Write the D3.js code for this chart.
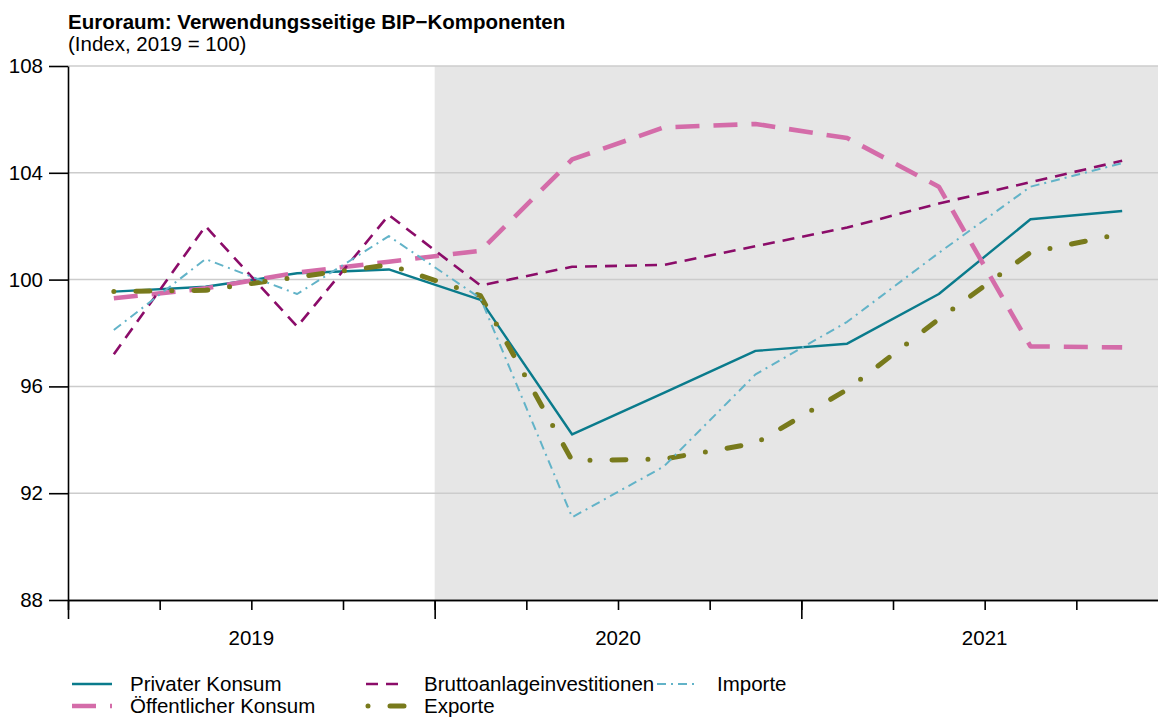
<!DOCTYPE html>
<html>
<head>
<meta charset="utf-8">
<script src="https://cdn.jsdelivr.net/npm/d3@7"></script>
<style>
  body { margin: 0; background: #fff; }
  text { font-family: "Liberation Sans", Arial, Helvetica, sans-serif; fill: #000; }
</style>
</head>
<body>
<div class="chart"></div>
<script>
// Euroraum: Verwendungsseitige BIP-Komponenten, Index 2019 = 100
var quarters = ["2019Q1", "2019Q2", "2019Q3", "2019Q4",
                "2020Q1", "2020Q2", "2020Q3", "2020Q4",
                "2021Q1", "2021Q2", "2021Q3", "2021Q4"];
var years = ["2019", "2020", "2021"];
var yTicks = [88, 92, 96, 100, 104, 108];

var privaterKonsum      = [99.55, 99.73, 100.24, 100.38, 99.24, 94.2, 95.76, 97.33, 97.6, 99.46, 102.26, 102.57];
var oeffentlicherKonsum = [99.3, 99.67, 100.26, 100.67, 101.08, 104.5, 105.7, 105.83, 105.3, 103.48, 97.5, 97.46];
var bruttoanlage        = [97.2, 102.0, 98.24, 102.42, 99.78, 100.48, 100.55, 101.25, 101.95, 102.85, 103.65, 104.45];
var exporte             = [99.55, 99.6, 100.1, 100.55, 99.4, 93.22, 93.28, 93.87, 95.88, 98.52, 101.02, 101.72];
var importe             = [98.11, 100.77, 99.46, 101.63, 99.3, 91.1, 93.0, 96.45, 98.42, 101.0, 103.48, 104.36];

// chart size
var svgWidth = 1158;
var svgHeight = 718;
var margin = { top: 66, left: 68, bottom: 118 };
var plotBottom = svgHeight - margin.bottom;   // 600
var plotRight = 1168;                         // x axis runs past the window edge
var fontSize = 20.5;

var svg = d3.select(".chart")
  .append("svg")
  .attr("width", svgWidth)
  .attr("height", svgHeight);

// quarters sit in the middle of their slot
var x = d3.scaleLinear().domain([0, quarters.length]).range([margin.left, plotRight]);
var y = d3.scaleLinear().domain([88, 108]).range([plotBottom, margin.top]);

// series table (styles live here, values come from the arrays above)
var series = [
  { name: "Privater Konsum",          values: privaterKonsum,      color: "#0a7b8c", width: 2.4, dash: null,          cap: "butt",  col: 0, row: 0 },
  { name: "Öffentlicher Konsum",      values: oeffentlicherKonsum, color: "#d46ca9", width: 4.6, dash: "24,14",       cap: "butt",  col: 0, row: 1 },
  { name: "Bruttoanlageinvestitionen", values: bruttoanlage,       color: "#8b0c69", width: 2.6, dash: "12,8",        cap: "butt",  col: 1, row: 0 },
  { name: "Exporte",                  values: exporte,             color: "#787a1c", width: 5,   dash: "0,22,14,22",  cap: "round", col: 1, row: 1 },
  { name: "Importe",                  values: importe,             color: "#62b3c8", width: 2,   dash: "9,5,2,5",     cap: "butt",  col: 2, row: 0 }
];

// shaded area from 2020 on
svg.append("rect")
  .attr("x", x(4))
  .attr("y", margin.top)
  .attr("width", svgWidth - x(4))
  .attr("height", plotBottom - margin.top)
  .attr("fill", "#e6e6e6");

// horizontal grid
svg.selectAll(".grid")
  .data(yTicks.filter(function(d) { return d > 88; }))
  .enter().append("line")
  .attr("class", "grid")
  .attr("x1", margin.left)
  .attr("x2", svgWidth)
  .attr("y1", function(d) { return y(d); })
  .attr("y2", function(d) { return y(d); })
  .attr("stroke", "#cccccc")
  .attr("stroke-width", 1.5);

// lines
var line = d3.line()
  .x(function(d, i) { return x(i + 0.5); })
  .y(function(d) { return y(d); });

svg.selectAll(".series")
  .data(series)
  .enter().append("path")
  .attr("class", "series")
  .attr("d", function(d) { return line(d.values); })
  .attr("fill", "none")
  .attr("stroke", function(d) { return d.color; })
  .attr("stroke-width", function(d) { return d.width; })
  .attr("stroke-dasharray", function(d) { return d.dash; })
  .attr("stroke-linecap", function(d) { return d.cap; })
  .attr("stroke-linejoin", "round");

// Y-AXIS
var yAxis = d3.axisLeft(y)
  .tickValues(yTicks)
  .tickSize(19)
  .tickSizeOuter(0)
  .tickPadding(6)
  .tickFormat(d3.format("d"));

var gy = svg.append("g")
  .attr("transform", "translate(" + margin.left + ",0)")
  .call(yAxis);
gy.selectAll("text").style("font-size", fontSize + "px").attr("fill", "#000");

// X-AXIS: quarter ticks short, year ticks long
var gxMinor = svg.append("g")
  .attr("transform", "translate(0," + plotBottom + ")")
  .call(d3.axisBottom(x).tickValues(d3.range(0, quarters.length + 1)).tickSize(10).tickSizeOuter(0).tickFormat(""));

var gxMajor = svg.append("g")
  .attr("transform", "translate(0," + plotBottom + ")")
  .call(d3.axisBottom(x).tickValues(d3.range(0, quarters.length + 1, 4)).tickSize(19).tickSizeOuter(0).tickFormat(""));

svg.selectAll(".domain, .tick line")
  .attr("stroke", "#000")
  .attr("stroke-width", 1.6);

// year labels centered in each year
svg.selectAll(".year")
  .data(years)
  .enter().append("text")
  .attr("class", "year")
  .attr("x", function(d, i) { return x(i * 4 + 2); })
  .attr("y", 645)
  .attr("text-anchor", "middle")
  .style("font-size", fontSize + "px")
  .text(function(d) { return d; });

// title
svg.append("text")
  .attr("x", margin.left)
  .attr("y", 29)
  .style("font-size", fontSize + "px")
  .style("font-weight", "bold")
  .text("Euroraum: Verwendungsseitige BIP\u2212Komponenten");

svg.append("text")
  .attr("x", margin.left)
  .attr("y", 51)
  .style("font-size", fontSize + "px")
  .text("(Index, 2019 = 100)");

// legend (second row kept just inside the bottom edge)
var legendCols = [72, 366, 657];
var legendRows = [684, 706];

var legend = svg.selectAll(".legend")
  .data(series)
  .enter().append("g")
  .attr("class", "legend")
  .attr("transform", function(d) {
    return "translate(" + legendCols[d.col] + "," + legendRows[d.row] + ")";
  });

legend.append("line")
  .attr("x1", function(d) { return d.cap === "round" ? 2 : 0; })
  .attr("x2", 40)
  .attr("y1", 0)
  .attr("y2", 0)
  .attr("stroke", function(d) { return d.color; })
  .attr("stroke-width", function(d) { return d.width; })
  .attr("stroke-dasharray", function(d) { return d.dash; })
  .attr("stroke-linecap", function(d) { return d.cap; });

legend.append("text")
  .attr("x", function(d) { return d.col === 2 ? 60 : 58; })
  .attr("y", 7)
  .style("font-size", fontSize + "px")
  .text(function(d) { return d.name; });
</script>
</body>
</html>
